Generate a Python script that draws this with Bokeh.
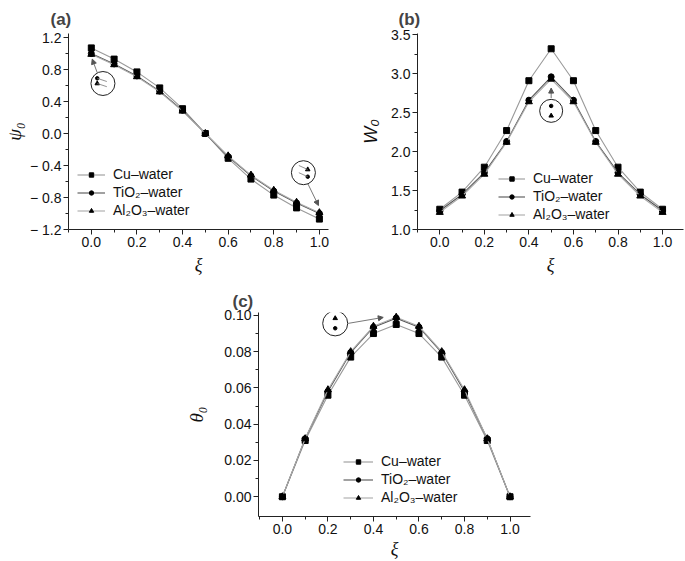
from bokeh.plotting import figure
from bokeh.models import (FixedTicker, Legend, LegendItem, Arrow, NormalHead,
                          Range1d, Title)
from bokeh.layouts import column, row, Spacer
from bokeh.embed import file_html
from bokeh.resources import INLINE

# ---------------- data ----------------
xi = [0.0, 0.1, 0.2, 0.3, 0.4, 0.5, 0.6, 0.7, 0.8, 0.9, 1.0]
series_names = ["Cu\u2013water", "TiO\u2082\u2013water", "Al\u2082O\u2083\u2013water"]

psi_cu = [1.07, 0.93, 0.77, 0.57, 0.31, 0.0, -0.31, -0.57, -0.77, -0.93, -1.07]
psi_ti = [1.00, 0.87, 0.72, 0.53, 0.29, 0.0, -0.29, -0.53, -0.72, -0.87, -1.00]
psi_al = [0.99, 0.86, 0.71, 0.52, 0.28, 0.0, -0.28, -0.52, -0.71, -0.86, -0.99]

w_cu = [1.26, 1.48, 1.80, 2.27, 2.91, 3.32, 2.91, 2.27, 1.80, 1.48, 1.26]
w_ti = [1.24, 1.45, 1.73, 2.13, 2.66, 2.96, 2.66, 2.13, 1.73, 1.45, 1.24]
w_al = [1.22, 1.43, 1.71, 2.12, 2.64, 2.93, 2.64, 2.12, 1.71, 1.43, 1.22]

th_cu = [0.0, 0.031, 0.056, 0.077, 0.090, 0.095, 0.090, 0.077, 0.056, 0.031, 0.0]
th_ti = [0.0, 0.032, 0.058, 0.0795, 0.0935, 0.0985, 0.0935, 0.0795, 0.058, 0.032, 0.0]
th_al = [0.0, 0.032, 0.059, 0.080, 0.094, 0.0990, 0.094, 0.080, 0.059, 0.032, 0.0]

x_ticks = [0.0, 0.2, 0.4, 0.6, 0.8, 1.0]
x_tick_labels = ["0.0", "0.2", "0.4", "0.6", "0.8", "1.0"]
x_minor = [-0.1, 0.1, 0.3, 0.5, 0.7, 0.9]

psi_ticks = [-1.2, -0.8, -0.4, 0.0, 0.4, 0.8, 1.2]
psi_tick_labels = ["\u2212 1.2", "\u2212 0.8", "\u2212 0.4", "0.0", "0.4", "0.8", "1.2"]
psi_minor = [-1.0, -0.6, -0.2, 0.2, 0.6, 1.0]

w_ticks = [1.0, 1.5, 2.0, 2.5, 3.0, 3.5]
w_tick_labels = ["1.0", "1.5", "2.0", "2.5", "3.0", "3.5"]
w_minor = [1.25, 1.75, 2.25, 2.75, 3.25]

th_ticks = [0.0, 0.02, 0.04, 0.06, 0.08, 0.10]
th_tick_labels = ["0.00", "0.02", "0.04", "0.06", "0.08", "0.10"]
th_minor = [0.01, 0.03, 0.05, 0.07, 0.09]

# inset callouts (data coordinates)
a_ring_x = [0.051, 0.93]
a_ring_y = [0.625, -0.49]
a_dot_x = [0.026, 0.949]
a_dot_y = [0.69, -0.54]
a_tri_x = [0.026, 0.949]
a_tri_y = [0.625, -0.45]
a_arrows = [(0.026, 0.76, 0.004, 0.93), (0.949, -0.625, 0.996, -0.90)]
a_ticks_x0 = [0.026, 0.026, 0.91, 0.91]
a_ticks_y0 = [0.69, 0.625, -0.40, -0.49]
a_ticks_x1 = [0.068, 0.068, 0.949, 0.949]
a_ticks_y1 = [0.65, 0.585, -0.45, -0.54]

b_ring_x = [0.5]
b_ring_y = [2.523]
b_dot_y = [2.586]
b_tri_y = [2.46]
b_arrows = [(0.5, 2.688, 0.5, 2.815)]

c_ring_x = [0.232]
c_ring_y = [0.0956]
c_tri_y = [0.0984]
c_dot_y = [0.0929]
c_arrows = [(0.289, 0.0956, 0.443, 0.0989)]

LINE_COLORS = ["#9a9a9a", "#555555", "#aaaaaa"]
MARKERS = [("square", 6), ("circle", 6), ("triangle", 7)]
SANS = "Liberation Sans"
SERIF = "Liberation Serif"


def make_panel(tag, w, h, xr, yr, mb, ylabel, ylabel_font, ylabel_style,
               ylabel_size, yticks, ylabels, yminor, ys, legend_loc, glyph_w,
               title_offset, title_standoff, ylab_standoff, xlab_standoff):
    p = figure(width=w, height=h, x_range=Range1d(*xr), y_range=Range1d(*yr),
               output_backend="svg", toolbar_location=None,
               min_border_left=mb[0], min_border_right=mb[1],
               min_border_top=mb[2], min_border_bottom=mb[3])
    p.title = Title(text=tag, align="left", offset=title_offset,
                    standoff=title_standoff, text_font=SANS,
                    text_font_size="17px", text_font_style="bold")
    p.grid.visible = False
    p.outline_line_color = None

    for ax in (p.xaxis[0], p.yaxis[0]):
        ax.axis_line_color = "#222222"
        ax.major_tick_line_color = "#222222"
        ax.minor_tick_line_color = "#222222"
        ax.major_tick_in = 0
        ax.major_tick_out = 5
        ax.minor_tick_in = 0
        ax.minor_tick_out = 3
        ax.major_label_text_font = SANS
        ax.major_label_text_font_size = "14px"
        ax.major_label_text_color = "#111111"
        ax.major_label_standoff = 2
        ax.axis_label_text_color = "#111111"

    p.xaxis.ticker = FixedTicker(ticks=x_ticks, minor_ticks=x_minor)
    p.xaxis.major_label_overrides = dict(zip(x_ticks, x_tick_labels))
    p.xaxis.axis_label = "\u03be"
    p.xaxis.axis_label_text_font = SERIF
    p.xaxis.axis_label_text_font_style = "italic"
    p.xaxis.axis_label_text_font_size = "18px"
    p.xaxis.axis_label_standoff = xlab_standoff

    p.yaxis.ticker = FixedTicker(ticks=yticks, minor_ticks=yminor)
    p.yaxis.major_label_overrides = dict(zip(yticks, ylabels))
    p.yaxis.axis_label = ylabel
    p.yaxis.axis_label_text_font = ylabel_font
    p.yaxis.axis_label_text_font_style = ylabel_style
    p.yaxis.axis_label_text_font_size = ylabel_size
    p.yaxis.axis_label_standoff = ylab_standoff

    items = []
    for name, yv, col, (mk, sz) in zip(series_names, ys, LINE_COLORS, MARKERS):
        lr = p.line(xi, yv, line_color=col, line_width=1.1)
        sr = p.scatter(xi, yv, marker=mk, size=sz, fill_color="black",
                       line_color="black")
        items.append(LegendItem(label=name, renderers=[lr, sr]))
    leg = Legend(items=items, location=legend_loc, border_line_color=None,
                 background_fill_alpha=0, padding=0, margin=0, spacing=2,
                 glyph_width=glyph_w, glyph_height=11, label_height=16,
                 label_standoff=8, label_text_font=SANS,
                 label_text_font_size="14px", label_text_color="#111111")
    p.add_layout(leg, "center")
    return p


def arrow(p, a):
    p.add_layout(Arrow(end=NormalHead(size=5, fill_color="#555555",
                                      line_color="#555555"),
                       x_start=a[0], y_start=a[1], x_end=a[2], y_end=a[3],
                       line_color="#555555", line_width=0.8))


# ---------------- panel (a) ----------------
pa = make_panel("(a)", 340, 288, (-0.1, 1.04), (-1.2, 1.25), (61, 12, 33, 59),
                "\u03c8\u2080", SERIF, "italic", "19px", psi_ticks,
                psi_tick_labels, psi_minor, [psi_cu, psi_ti, psi_al], (9, 11),
                28, -18, 9, 2, 5)
pa.scatter(a_ring_x, a_ring_y, marker="circle", size=24, fill_color=None,
           line_color="#222222", line_width=1)
pa.scatter(a_dot_x, a_dot_y, marker="circle", size=3.5, fill_color="black",
           line_color="black")
pa.scatter(a_tri_x, a_tri_y, marker="triangle", size=4.5, fill_color="black",
           line_color="black")
pa.segment(a_ticks_x0, a_ticks_y0, a_ticks_x1, a_ticks_y1, line_color="#777777",
           line_width=0.8)
for a in a_arrows:
    arrow(pa, a)

# ---------------- panel (b) ----------------
pb = make_panel("(b)", 345, 288, (-0.1, 1.094), (1.0, 3.516), (77, 2, 32, 58),
                "W\u2080", SANS, "italic", "18px", w_ticks, w_tick_labels,
                w_minor, [w_cu, w_ti, w_al], (81, 7), 27, -19, 10, 7, 5)
pb.scatter(b_ring_x, b_ring_y, marker="circle", size=23, fill_color=None,
           line_color="#222222", line_width=1)
pb.scatter(b_ring_x, b_dot_y, marker="circle", size=3.5, fill_color="black",
           line_color="black")
pb.scatter(b_ring_x, b_tri_y, marker="triangle", size=4.5, fill_color="black",
           line_color="black")
for a in b_arrows:
    arrow(pb, a)

# ---------------- panel (c) ----------------
pc = make_panel("(c)", 390, 273, (-0.105, 1.09), (-0.0109, 0.1016),
                (108, 10, 24, 43), "\u03b8\u2080", SERIF, "italic", "19px",
                th_ticks, th_tick_labels, th_minor, [th_cu, th_ti, th_al],
                (85, 11), 30, -26, 3, 14, 2)
pc.scatter(c_ring_x, c_ring_y, marker="circle", size=25, fill_color=None,
           line_color="#222222", line_width=1)
pc.scatter(c_ring_x, c_tri_y, marker="triangle", size=4.5, fill_color="black",
           line_color="black")
pc.scatter(c_ring_x, c_dot_y, marker="circle", size=3.5, fill_color="black",
           line_color="black")
for a in c_arrows:
    arrow(pc, a)

layout = column(row(pa, pb), row(Spacer(width=150, height=273), pc))

with open("out.html", "w") as f:
    f.write(file_html(layout, INLINE))
